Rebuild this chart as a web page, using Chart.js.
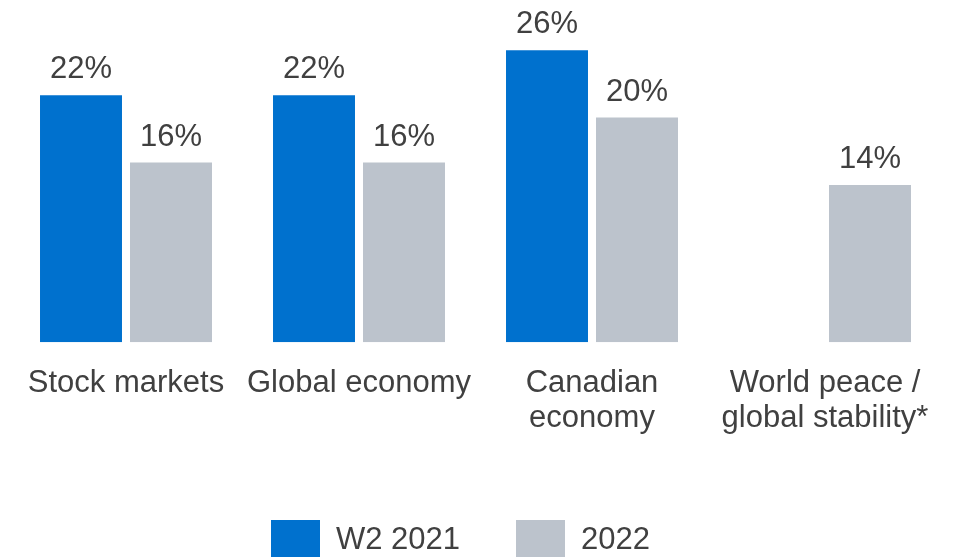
<!DOCTYPE html>
<html>
<head>
<meta charset="utf-8">
<script src="https://cdn.jsdelivr.net/npm/chart.js@4/dist/chart.umd.min.js"></script>
<style>
    html, body { margin: 0; padding: 0; background: #fff; }
    #wrap { position: relative; width: 954px; height: 557px; overflow: hidden; }
    #legend {
        position: absolute; left: 271px; top: 520px;
        display: flex; align-items: center; gap: 56px;
        font-family: "Liberation Sans", Arial, sans-serif; font-size: 31px; color: #404040;
    }
    .item { display: flex; align-items: center; }
    .swatch { width: 49px; height: 37px; margin-right: 16px; }
</style>
</head>
<body>
<div id="wrap">
    <canvas id="concernChart" width="954" height="557"></canvas>
    <div id="legend"></div>
</div>
<script>
const categories = ['Stock markets', 'Global economy', ['Canadian', 'economy'], ['World peace /', 'global stability*']];
const seriesNames = ['W2 2021', '2022'];
const values2021 = [22, 22, 26, null];
const values2022 = [16, 16, 20, 14];
const colors = ['#0071CE', '#BCC3CC'];

const FONT = '"Liberation Sans", Arial, sans-serif';
const TEXT = '#404040';

// percentage labels above each bar
const barLabels = {
    id: 'barLabels',
    afterDatasetsDraw(chart) {
        const ctx = chart.ctx;
        ctx.save();
        ctx.font = `31px ${FONT}`;
        ctx.fillStyle = TEXT;
        ctx.textAlign = 'center';
        ctx.textBaseline = 'alphabetic';
        chart.data.datasets.forEach((ds, i) => {
            chart.getDatasetMeta(i).data.forEach((bar, j) => {
                const v = ds.data[j];
                if (v === null || v === undefined) return;
                ctx.fillText(v + '%', bar.x, bar.y - 17);
            });
        });
        ctx.restore();
    }
};

new Chart(document.getElementById('concernChart'), {
    type: 'bar',
    data: {
        labels: categories,
        datasets: [
            { label: seriesNames[0], data: values2021, backgroundColor: colors[0] },
            { label: seriesNames[1], data: values2022, backgroundColor: colors[1] }
        ]
    },
    options: {
        responsive: false,
        animation: false,
        layout: { padding: { left: 9.5, right: 12.5, top: 5.3, bottom: 104.7 } },
        datasets: { bar: { categoryPercentage: 0.7725, barPercentage: 0.911 } },
        plugins: { legend: { display: false }, tooltip: { enabled: false } },
        scales: {
            x: {
                grid: { display: false },
                border: { display: false },
                ticks: { color: TEXT, font: { family: FONT, size: 31, lineHeight: 1.13 }, padding: 16, maxRotation: 0, autoSkip: false }
            },
            y: { display: false, min: 0, max: 30 }
        }
    },
    plugins: [barLabels]
});

// legend row under the chart
const legend = document.getElementById('legend');
seriesNames.forEach((name, i) => {
    const item = document.createElement('div');
    item.className = 'item';
    item.innerHTML = `<span class="swatch" style="background:${colors[i]}"></span><span>${name}</span>`;
    legend.appendChild(item);
});
</script>
</body>
</html>
